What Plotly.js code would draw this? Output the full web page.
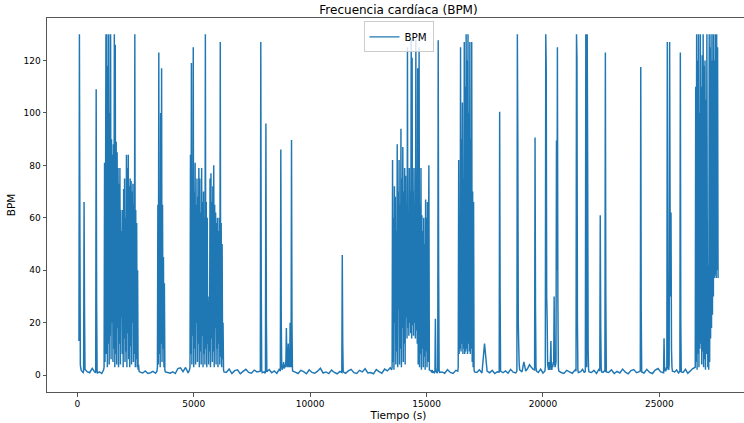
<!DOCTYPE html>
<html><head><meta charset="utf-8">
<script src="https://cdn.plot.ly/plotly-3.0.1.min.js"></script>
<style>html,body{margin:0;padding:0;overflow:hidden;background:#fff}#chart{width:751px;height:423px}</style>
</head><body><div id="chart"></div><script>
// Each segment: start time (s), sampling step (s), BPM values
const pico_0 = [13, 130, 60, 4, 2.5, 1.8];
const base_1 = [1.2, 1.0];
const pico_1 = [1.5, 66, 25, 2.2];
const base_2 = [1.3, 0.9, 2.6, 1.1];
const pico_2 = [1.0, 109, 28, 1.5, 0.8];
const base_3 = [1.2, 0.6];
const rafaga_A = [2,3,81,5,60,130,8,130,3,118, 12,130,4,100,15,130,6,90,20,84, 5,88,10,130,3,126,8,89,4,85,
  18,79,3,73,12,79,4,63,22,55, 8,63,3,71,14,75,5,60,9,84, 3,79,16,84,6,72,3,75,11,74, 4,70,20,73,5,65,8,130,3,63, 6,58,3,40,2,4,1.5];
const base_4 = [1.1, 0.8, 1.6, 0.6, 0.9, 1.4, 0.7];
const rafaga_B = [1.5,3,65,4,123,8,60,3,100,12,117,5,65,10,45,3,35,2,1.2];
const base_5 = [1.0, 0.7, 1.2, 0.6, 2.5, 2.8, 1.3, 2.9, 0.8];
const rafaga_C = [2,3,84,8,119,4,60,15,125,3, 70,10,81,4,65,20,75,5,68,12, 79,3,75,9,62,4,79,15,66,3,
  70,8,60,4,130,10,66,3,60,12, 30,4,28,9,75,3,77,14,66,5, 72,9,80,3,65,18,62,4,58,10, 60,3,55,12,60,4,127,7,58,3, 50,6,20,2,1.2];
const base_6 = [1.0, 2.3, 0.6, 1.7, 2.0, 0.5, 1.4, 2.2, 1.0, 0.7, 1.9, 1.2];
const pico_3 = [1.5, 127, 35, 1.8, 0.9];
const base_7 = [1.2, 0.8];
const pico_4 = [1.0, 96, 22, 1.3];
const base_8 = [2.1, 0.9, 1.6, 0.7, 2.4];
const grupo_9k = [1.5,86,20,3,2,4,2.5,5,3,2.5,4,3,6,18,4,3,6,12,3,4,3,20,5,3,89.7,20,2,1.5];
const base_9 = [1.1, 0.6, 1.8, 1.3, 0.5, 2.0, 1.0, 0.7, 1.5, 2.6, 0.8, 1.2, 0.6, 1.9, 1.0, 0.5, 1.4];
const pico_5 = [1.0, 45.8, 12, 1.2];
const base_10 = [0.7, 1.6, 2.2, 0.9, 0.6, 1.8, 1.2, 2.4, 0.8, 1.0, 0.5, 2.1, 1.3, 0.7, 2.3, 1.6, 2.8];
const rafaga_D = [2,3,82,5,60,2,72,20,68,4, 55,9,88,3,70,25,82,4,65,10, 94,3,75,18,87,5,70,12,79,4,
  76,22,65,14,125,18,60,15,79,20, 70,16,128,14,121,19,70,15,79,20, 65,14,128,17,75,12,117,4,70,125,
  3,65,8,79,2,61,10,55,3,60, 7,50,2,67,9,60,3,66,5,45, 80,2];
const grupo_15k = [1.5,1.0,2.0,1.2,0.8,1.5,1.0,0.9,1.4,21.5,3,1.2,1.0,0.8,1.6,127.7,40,2,1.0];
const base_11 = [1.2, 0.7, 2.1, 1.0, 0.6, 1.8];
const rafaga_E = [1.5,3,82,8,60,10,125,9,90,12, 104,8,75,10,127,8,110,9,130,10, 120,8,130,12,100,9,127,8,90,10, 127,5,70,3,66,2,1.2];
const base_12 = [1.0, 2.0, 0.8, 12, 1.5, 0.9, 1.8, 0.6, 1.3];
const pico_6 = [1.2, 100.4, 30, 1.5];
const base_13 = [0.9, 1.6, 0.7, 2.2, 1.1, 0.8];
const pico_7 = [1.5, 130, 90, 20, 10.6, 4, 2];
const base_14 = [1.2, 5, 1.5, 2.5, 4, 3, 2.2];
const pico_8 = [2, 90.6, 25, 3, 1.5];
const base_15 = [1.0, 2.3, 0.8];
const grupo_20k = [1.5,3,130,117,30,21,4,3,2,5,3,2,6,13,3,2,4,3,5,4,30,6,3,4,5,89.5,40,125,30,3,1.5];
const base_16 = [1.0, 0.6, 1.8, 1.2, 0.7, 2.0];
const pico_9 = [1.5, 130, 121, 20, 2, 1.0];
const base_17 = [1.3, 2.2, 0.9];
const pico_10 = [1.5, 130, 60, 3, 130, 80, 10, 2, 1.2];
const base_18 = [1.0, 1.8, 0.6, 2.4];
const pico_11 = [1.5, 61, 19, 3, 1.2];
const base_19 = [1.0, 1.5];
const pico_12 = [1.5, 123, 30, 1.2];
const base_20 = [1.0, 2.0, 0.6, 1.4, 0.8, 2.3, 1.1, 0.5, 1.7, 2.1, 0.9, 1.3];
const pico_13 = [1.5, 117.5, 25, 1.2];
const base_21 = [0.8, 2.2, 1.0, 0.6, 1.9, 2.5, 1.2, 0.9];
const grupo_25k = [14,3,1.5,2,1.5,3,2,127,40,3,2,4,127,65,30,62,10,3,1.5];
const base_22 = [1.2, 2.0, 0.8];
const pico_14 = [1.5, 123, 20, 1.2];
const base_23 = [1.0, 2.2, 0.7, 1.5, 2.4];
const rafaga_F = [3,110,5,130,2,120,8,130,3,100, 10,130,12,110,4,122,9,130,3,118, 6,120,2,105,8,130,40,3,42,2,
  130,5,125,14,130,18,120,23,130,30, 130,37,120,38,130,37,130,40,125,37];

// [start time (s), step (s), values]
const segmentos = [
  [70,20,pico_0],[230,20,base_1],[270,20,pico_1],[420,110,base_2],[790,20,pico_2],[950,100,base_3],
  [1130,20,rafaga_A],[2700,110,base_4],[3420,20,rafaga_B],[3880,110,base_5],[4820,20,rafaga_C],
  [6400,120,base_6],[7860,20,pico_3],[8020,40,base_7],[8080,20,pico_4],[8240,110,base_8],[8720,20,grupo_9k],
  [9360,120,base_9],[11360,20,pico_5],[11520,120,base_10],[13500,20,rafaga_D],[15200,20,grupo_15k],
  [15660,120,base_11],[16340,20,rafaga_E],[17160,110,base_12],[18120,20,pico_6],[18280,110,base_13],
  [18880,20,pico_7],[19100,80,base_14],[19640,20,pico_8],[19800,100,base_15],[20080,20,grupo_20k],
  [20780,120,base_16],[21420,20,pico_9],[21620,80,base_17],[21820,20,pico_10],[22080,110,base_18],
  [22440,20,pico_11],[22580,40,base_19],[22660,20,pico_12],[22820,120,base_20],[24180,20,pico_13],
  [24340,120,base_21],[25200,20,grupo_25k],[25660,80,base_22],[25880,20,pico_14],[26020,100,base_23],
  [26540,20,rafaga_F]
];

const xTicks = [0, 5000, 10000, 15000, 20000, 25000];
const xTickText = ['0', '5000', '10000', '15000', '20000', '25000'];
const yTicks = [0, 20, 40, 60, 80, 100, 120];

const tiempo = [], bpm = [];
segmentos.forEach(([t0, dt, vals]) => {
  vals.forEach((v, i) => { tiempo.push(t0 + i * dt); bpm.push(v); });
});

const trace = {
  x: tiempo, y: bpm, type: 'scatter', mode: 'lines', name: 'BPM', showlegend: true,
  line: {color: '#1f77b4', width: 1.45, simplify: false}
};

const axisCommon = {
  showline: true, mirror: true, linecolor: '#555', linewidth: 1,
  ticks: 'outside', ticklen: 3.5, tickcolor: '#555', tickwidth: 1,
  showgrid: false, zeroline: false, tickfont: {size: 9, color: '#000'}
};

const layout = {
  width: 751, height: 423,
  margin: {l: 47, r: 1, t: 18, b: 31, pad: 0},
  paper_bgcolor: '#fff', plot_bgcolor: '#fff',
  font: {family: 'DejaVu Sans', size: 9, color: '#000'},
  showlegend: true,
  title: {text: 'Frecuencia cardíaca (BPM)', x: 0.5, xref: 'paper', xanchor: 'center',
          y: 0.976, yref: 'container', yanchor: 'middle', font: {size: 12, color: '#000'}},
  xaxis: Object.assign({}, axisCommon, {
    range: [-1302, 28892], tickmode: 'array', tickvals: xTicks, ticktext: xTickText,
    title: {text: 'Tiempo (s)', font: {size: 10.5, color: '#000'}, standoff: 3}
  }),
  yaxis: Object.assign({}, axisCommon, {
    range: [-6.45, 136.2], tickmode: 'array', tickvals: yTicks,
    title: {text: 'BPM', font: {size: 10.5, color: '#000'}, standoff: 5}
  }),
  legend: {x: 0.5, xanchor: 'center', y: 0.991, yanchor: 'top', bordercolor: '#ccc', borderwidth: 1,
           bgcolor: 'rgba(255,255,255,0.8)', font: {size: 10.3, color: '#000'}}
};

Plotly.newPlot('chart', [trace], layout, {staticPlot: true, displayModeBar: false});
</script></body></html>
